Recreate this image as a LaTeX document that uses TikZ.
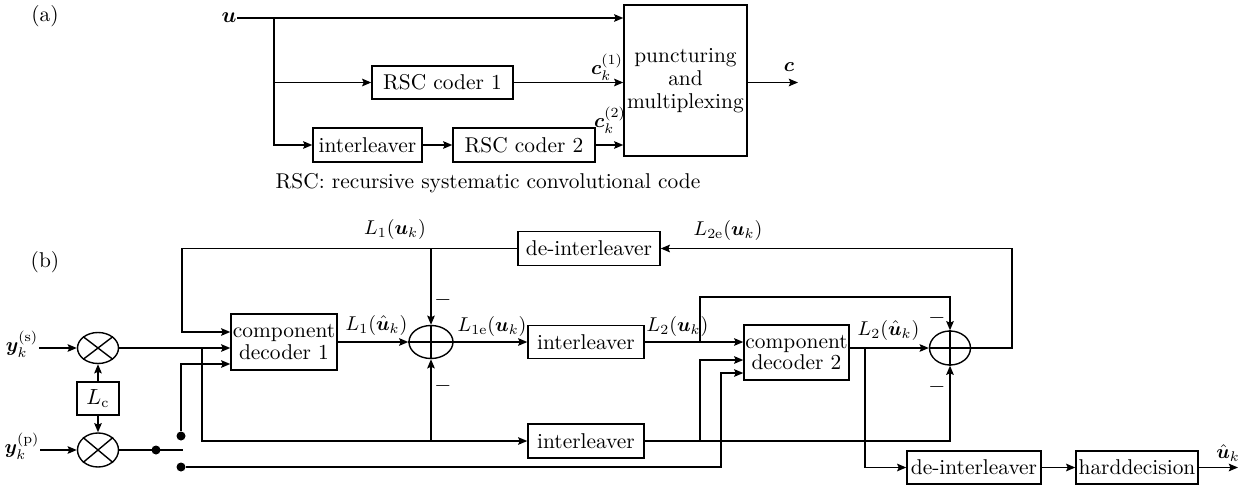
\documentclass[tikz,border=0pt]{standalone}
\usepackage{amsmath,bm}
\usetikzlibrary{arrows.meta,shapes.geometric,calc}
\begin{document}
\begin{tikzpicture}[x=0.5pt,y=-0.5pt,
  font=\fontsize{10.7}{12.6}\selectfont,
  every path/.style={line width=0.7pt},
  >={Stealth[length=4.6pt,width=3.8pt,inset=0.8pt]},
  blk/.style={draw,line width=0.7pt,inner sep=1pt,align=center},
  oval/.style={draw,ellipse,line width=0.7pt,inner sep=0pt},
  lbl/.style={inner sep=0pt},
  mlbl/.style={inner sep=0pt,font=\fontsize{9.8}{12}\selectfont},
  dot/.style={circle,fill,inner sep=0pt,minimum size=4.5pt}]
\useasboundingbox (0,0) rectangle (1249,487);
% ---------- (a) ----------
\node[lbl] (la) at (45,16) {(a)};
\node[lbl] (u) at (229,18) {$\bm{u}$};
\node[blk,minimum width=70.5pt,minimum height=16.5pt] (rsc1) at (442.5,82.5) {RSC coder 1};
\node[blk,minimum width=54.5pt,minimum height=17pt] (inta) at (367.5,145) {interleaver};
\node[blk,minimum width=71pt,minimum height=17pt] (rsc2) at (524,145) {RSC coder 2};
\node[blk,minimum width=61.5pt,minimum height=75.5pt] (punct) at (685.5,80.5) {puncturing\\[-1pt] and\\[-1pt] multiplexing};
\node[mlbl] (c1) at (607,67) {$\bm{c}_k^{(1)}$};
\node[mlbl] (c2) at (610,120) {$\bm{c}_k^{(2)}$};
\node[mlbl] (cl) at (789,67) {$\bm{c}$};
\node[lbl] (note) at (488,183) {RSC: recursive systematic convolutional code};
\coordinate (br) at (274,18);
\coordinate (cout) at (798,82.5);
\draw[->] (u.east) -- (u.east -| punct.west);
\draw[->] (br) |- (rsc1.west);
\draw[->] (br) |- (inta.west);
\draw[->] (rsc1.east) -- (rsc1.east -| punct.west);
\draw[->] (inta.east) -- (rsc2.west);
\draw[->] (rsc2.east) -- (rsc2.east -| punct.west);
\draw[->] (punct.east |- cout) -- (cout);
% ---------- (b) ----------
\node[lbl] (lb) at (45,262) {(b)};
\node[blk,minimum width=53pt,minimum height=28pt,inner sep=0pt] (cd1) at (284,342) {component\\[-2pt]decoder 1};
\node[blk,minimum width=71pt,minimum height=17pt] (deint1) at (589,248.5) {de-interleaver};
\node[oval,minimum width=22pt,minimum height=16.5pt] (sum1) at (431,342) {};
\node[blk,minimum width=58pt,minimum height=16.5pt] (int1) at (586,342) {interleaver};
\node[blk,minimum width=58pt,minimum height=17pt] (int2) at (586,441) {interleaver};
\node[blk,minimum width=52.5pt,minimum height=27.5pt,inner sep=0pt] (cd2) at (796.5,352.5) {component\\[-2pt]decoder 2};
\node[oval,minimum width=20.5pt,minimum height=17pt] (sum2) at (950,348) {};
\node[blk,minimum width=67pt,minimum height=16.5pt] (deint2) at (974,467.5) {de-interleaver};
\node[blk,minimum width=61pt,minimum height=16.5pt] (hard) at (1137,467.5) {harddecision};
\node[oval,minimum width=20.5pt,minimum height=15.5pt] (mult1) at (98,348) {};
\node[blk,minimum width=21pt,minimum height=16.5pt] (Lc) at (98,398.5) {$L_{\mathrm{c}}$};
\node[oval,minimum width=20.5pt,minimum height=17pt] (mult2) at (98,450) {};
\node[mlbl] (ys) at (22,344) {$\bm{y}_k^{(\mathrm{s})}$};
\node[mlbl] (yp) at (22,446) {$\bm{y}_k^{(\mathrm{p})}$};
% plus / times marks
\draw (sum1.north) -- (sum1.south) (sum1.west) -- (sum1.east);
\draw (sum2.north) -- (sum2.south) (sum2.west) -- (sum2.east);
\draw (mult1.north east) -- (mult1.south west) (mult1.north west) -- (mult1.south east);
\draw (mult2.north east) -- (mult2.south west) (mult2.north west) -- (mult2.south east);
% labels
\node[mlbl] (l1u) at (395,229) {$L_1(\bm{u}_k)$};
\node[mlbl] (l2e) at (728,230) {$L_{2\mathrm{e}}(\bm{u}_k)$};
\node[mlbl,anchor=west] (l1h) at (345,325) {$L_1(\hat{\bm{u}}_k)$};
\node[mlbl,anchor=west] (l1e) at (457,326) {$L_{1\mathrm{e}}(\bm{u}_k)$};
\node[mlbl,anchor=west] (l2u) at (646,326) {$L_2(\bm{u}_k)$};
\node[mlbl,anchor=west] (l2h) at (857,330) {$L_2(\hat{\bm{u}}_k)$};
\node[mlbl] (uh) at (1228,453) {$\hat{\bm{u}}_k$};
\node[lbl] (m1) at (443,300) {$-$};
\node[lbl] (m2) at (443,386) {$-$};
\node[lbl] (m3) at (937,318) {$-$};
\node[lbl] (m4) at (937,387) {$-$};
% switch
\node[dot] (d0) at (156,450) {};
\node[dot] (d1) at (181,436) {};
\node[dot] (d2) at (181,467) {};
\coordinate (arm) at (183,450);
% coordinates
\coordinate (j1) at (202,348);
\coordinate (j1b) at (431,441);
\coordinate (fb) at (182,248.5);
\coordinate (j2) at (700,342);
\coordinate (t2) at (700,297);
\coordinate (j3) at (700,441);
\coordinate (j4) at (865,348);
\coordinate (r2) at (1012,348);
\coordinate (lw) at (721,467);
\coordinate (uout) at (1238,467.5);
% connectors
\draw[->] (ys.east |- mult1.west) -- (mult1.west);
\draw[->] (yp.east |- mult2.west) -- (mult2.west);
\draw[->] (Lc.north) -- (mult1.south);
\draw[->] (Lc.south) -- (mult2.north);
\draw[->] (mult1.east) -- (mult1.east -| cd1.west);
\draw[->] (j1) |- (int2.west);
\draw[->] (j1b) -- (sum1.south);
\draw[->] (deint1.west) -- (fb) |- ([yshift=5pt]cd1.west);
\draw[->] (sum1.north |- deint1.west) -- (sum1.north);
\draw[->] (cd1.east) -- (sum1.west);
\draw[->] (sum1.east) -- (int1.west);
\draw[->] (int1.east) -- (int1.east -| cd2.west);
\draw[->] (j2) -- (t2) -| (sum2.north);
\draw[->] (int2.east) -| (sum2.south);
\draw[->] (j3) |- ([yshift=-3.75pt]cd2.west);
\draw (mult2.east) -- (arm);
\draw[->] (d1) |- ([yshift=-11pt]cd1.west);
\draw[->] (d2) -- (lw) |- ([yshift=-10.25pt]cd2.west);
\draw[->] (cd2.east |- sum2.west) -- (sum2.west);
\draw[->] (j4) |- (deint2.west);
\draw[->] (sum2.east) -- (r2) |- (deint1.east);
\draw[->] (deint2.east) -- (hard.west);
\draw[->] (hard.east) -- (uout);
\end{tikzpicture}
\end{document}
